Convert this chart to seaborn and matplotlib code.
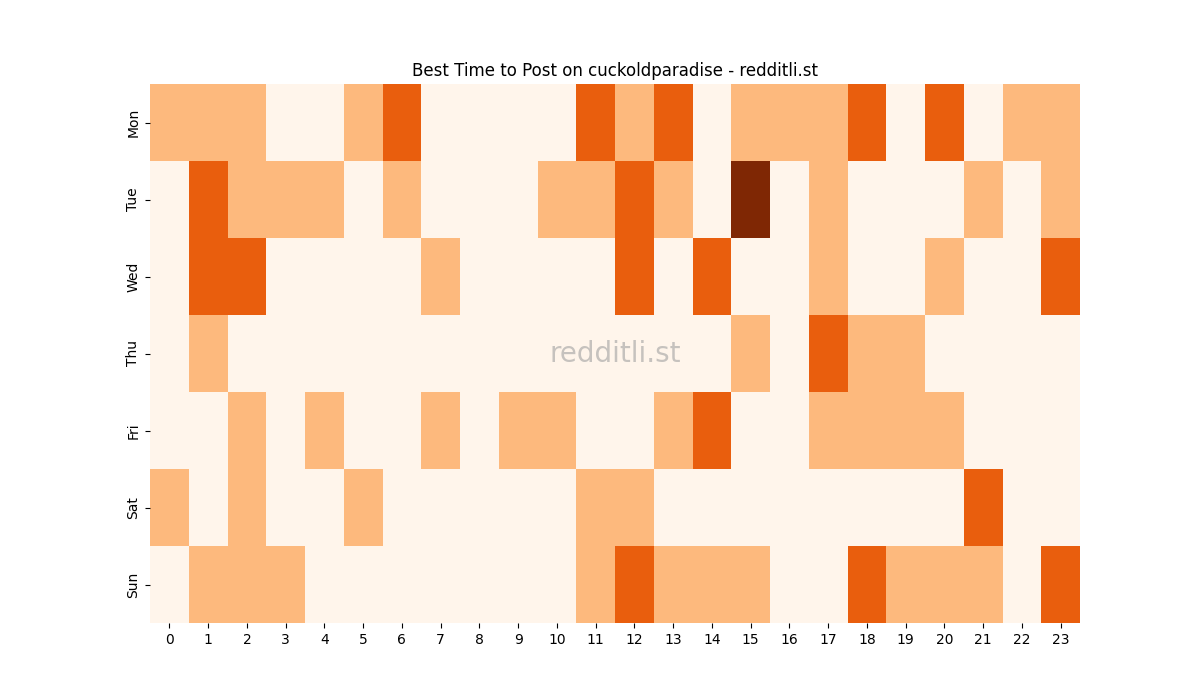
import matplotlib
matplotlib.use("Agg")
import matplotlib.pyplot as plt
import seaborn as sns
import pandas as pd

days = ["Mon", "Tue", "Wed", "Thu", "Fri", "Sat", "Sun"]
hours = list(range(24))

mon = [1, 1, 1, 0, 0, 1, 2, 0, 0, 0, 0, 2, 1, 2, 0, 1, 1, 1, 2, 0, 2, 0, 1, 1]
tue = [0, 2, 1, 1, 1, 0, 1, 0, 0, 0, 1, 1, 2, 1, 0, 3, 0, 1, 0, 0, 0, 1, 0, 1]
wed = [0, 2, 2, 0, 0, 0, 0, 1, 0, 0, 0, 0, 2, 0, 2, 0, 0, 1, 0, 0, 1, 0, 0, 2]
thu = [0, 1, 0, 0, 0, 0, 0, 0, 0, 0, 0, 0, 0, 0, 0, 1, 0, 2, 1, 1, 0, 0, 0, 0]
fri = [0, 0, 1, 0, 1, 0, 0, 1, 0, 1, 1, 0, 0, 1, 2, 0, 0, 1, 1, 1, 1, 0, 0, 0]
sat = [1, 0, 1, 0, 0, 1, 0, 0, 0, 0, 0, 1, 1, 0, 0, 0, 0, 0, 0, 0, 0, 2, 0, 0]
sun = [0, 1, 1, 1, 0, 0, 0, 0, 0, 0, 0, 1, 2, 1, 1, 1, 0, 0, 2, 1, 1, 1, 0, 2]

df = pd.DataFrame([mon, tue, wed, thu, fri, sat, sun], index=days, columns=hours)

fig, ax = plt.subplots(figsize=(12, 7), dpi=100)
sns.heatmap(df, cmap="Oranges", vmin=0, vmax=3, cbar=False, ax=ax)
ax.set_title("Best Time to Post on cuckoldparadise - redditli.st")
ax.set_xlabel("")
ax.set_ylabel("")
ax.text(0.5, 0.5, "redditli.st", transform=ax.transAxes, ha="center", va="center",
        fontsize=20, color="#a0a0a0", alpha=0.6)
fig.savefig("out.png")
